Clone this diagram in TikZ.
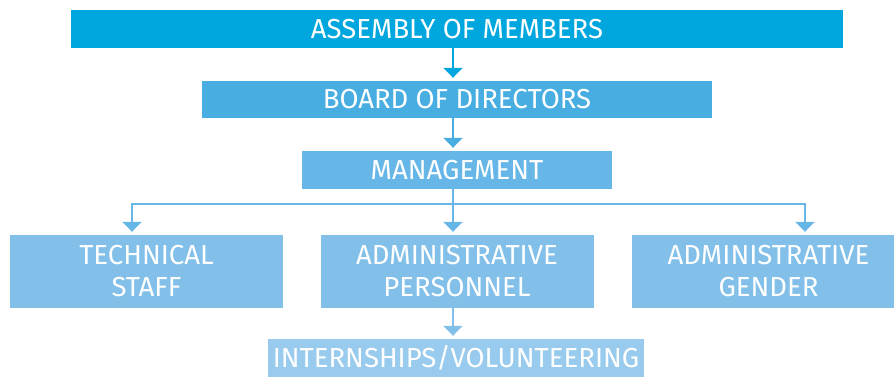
\documentclass[tikz,border=0pt]{standalone}
\usepackage{fontspec}
\setmainfont{Fira Sans}
\usetikzlibrary{arrows.meta}
\definecolor{blueA}{HTML}{00A6DE}
\definecolor{blueB}{HTML}{48AEE2}
\definecolor{blueC}{HTML}{66B7E7}
\definecolor{blueD}{HTML}{82C0EA}
\definecolor{blueE}{HTML}{99CBEE}
\tikzset{
  box/.style={rectangle, inner sep=0pt, text=white, align=center,
    font=\fontsize{27.5}{32}\selectfont},
  conn/.style={line width=2pt, -{Triangle[width=19pt,length=10pt]}, shorten >=3pt}
}
\begin{document}
\begin{tikzpicture}[x=1pt, y=-1pt]
    \clip (0,0) rectangle (894,376);
    \node[box, fill=blueA, minimum width=772pt, minimum height=37.5pt] (assembly) at (457,28.75) {ASSEMBLY OF MEMBERS};
    \node[box, fill=blueB, minimum width=510pt, minimum height=37pt] (board) at (457,99.5) {BOARD OF DIRECTORS};
    \node[box, fill=blueC, minimum width=310pt, minimum height=38pt] (mgmt) at (457,170) {MANAGEMENT};
    \foreach \name/\x/\txt in {tech/146.5/{TECHNICAL\\STAFF}, admin/457/{ADMINISTRATIVE\\PERSONNEL}, gender/768.5/{ADMINISTRATIVE\\GENDER}}
       \node[box, fill=blueD, minimum width=273pt, minimum height=72.5pt] (\name) at (\x,271.25) {\txt};
    \node[box, fill=blueE, minimum width=376pt, minimum height=38pt] (intern) at (456,358) {INTERNSHIPS/VOLUNTEERING};
    \coordinate (split) at (453,204);
    \draw[conn, blueA] ([xshift=-4pt]assembly.south) -- ([xshift=-4pt]board.north);
    \draw[conn, blueB] ([xshift=-4pt]board.south) -- ([xshift=-4pt]mgmt.north);
    \draw[conn, blueC] ([xshift=-4pt]mgmt.south) -- ([xshift=-4pt]admin.north);
    \draw[conn, blueC] (split) -| ([xshift=-14.5pt]tech.north);
    \draw[conn, blueC] (split) -| ([xshift=36.5pt]gender.north);
    \draw[conn, blueD] ([xshift=-4pt]admin.south) -- ([xshift=-3pt]intern.north);
\end{tikzpicture}
\end{document}
